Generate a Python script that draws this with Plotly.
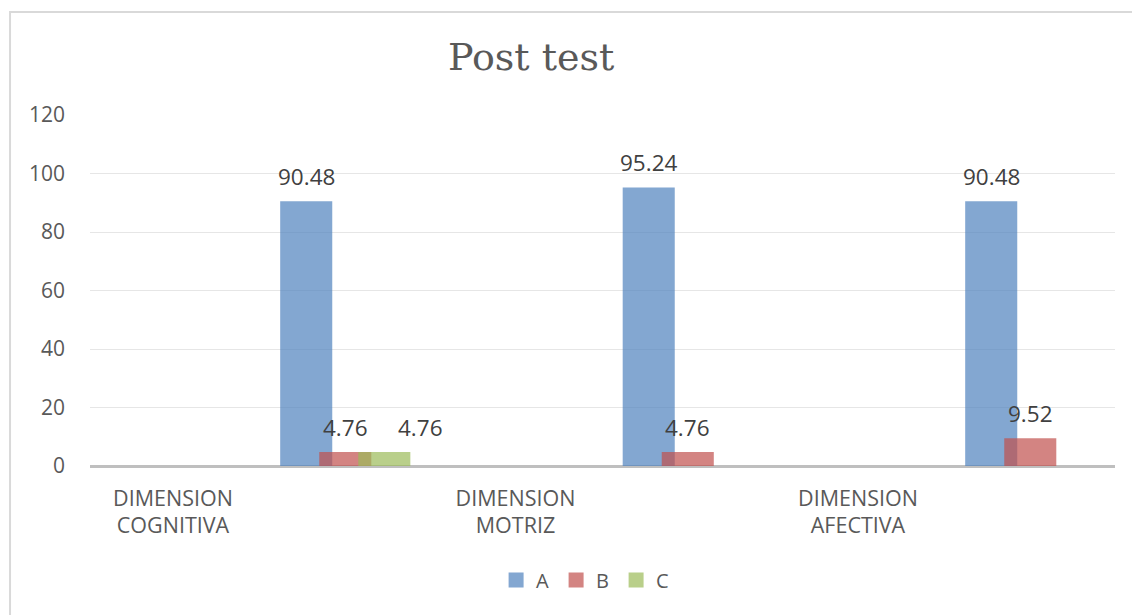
import plotly.graph_objects as go

categories = ["DIMENSION<br>COGNITIVA", "DIMENSION<br>MOTRIZ", "DIMENSION<br>AFECTIVA"]
series_names = ["A", "B", "C"]
values_A = [90.48, 95.24, 90.48]
values_B = [4.76, 4.76, 9.52]
values_C = [4.76, None, None]
colors = ["rgba(79,129,189,0.7)", "rgba(192,80,77,0.7)", "rgba(155,187,89,0.7)"]
y_ticks = [0, 20, 40, 60, 80, 100, 120]

offsets = [0.389, 0.503, 0.617]
bar_w = 0.152
label_xshift = [0, 0, 36]

fig = go.Figure()
all_vals = [values_A, values_B, values_C]
idx = list(range(len(categories)))
for s, (name, vals, col, off) in enumerate(zip(series_names, all_vals, colors, offsets)):
    xs = [i + off for i, v in zip(idx, vals) if v is not None]
    ys = [v for v in vals if v is not None]
    fig.add_trace(go.Bar(x=xs, y=ys, name=name, width=bar_w, showlegend=False,
                         marker=dict(color=col, line=dict(width=0))))
    for x, y in zip(xs, ys):
        fig.add_annotation(x=x, y=y, text=f"{y:.2f}", showarrow=False,
                           yanchor="middle", yshift=25, xshift=label_xshift[s],
                           font=dict(family="Open Sans", size=22.5, color="#404040"))
for name, col in zip(series_names, colors):
    fig.add_trace(go.Scatter(x=[None], y=[None], mode="markers", name=name,
                             marker=dict(symbol="square", size=15, color=col)))

fig.update_layout(
    width=1140, height=615,
    margin=dict(l=82, r=33, t=107, b=157),
    barmode="overlay",
    plot_bgcolor="white", paper_bgcolor="white",
    showlegend=True,
    legend=dict(orientation="h", x=0.484, xanchor="center", y=-0.325, yanchor="middle",
                font=dict(family="Open Sans", size=20, color="#595959"),
                itemwidth=30, entrywidth=15, traceorder="normal"),
    title=dict(text="Post test", x=0.4588, xanchor="center", y=0.921, yanchor="middle",
               xref="container", yref="container",
               font=dict(family="DejaVu Serif", size=38, color="#595959")),
)
fig.update_xaxes(range=[-0.2423, 2.7504], tickmode="array", tickvals=idx, ticktext=categories,
                 showgrid=False, zeroline=False, showline=False, ticks="",
                 tickfont=dict(family="Open Sans", size=21.5, color="#595959"),
                 ticklabelstandoff=17)
fig.update_yaxes(range=[0, 120], tickmode="array", tickvals=y_ticks,
                 showgrid=True, gridcolor="#E6E6E6", gridwidth=1,
                 zeroline=True, zerolinecolor="#BFBFBF", zerolinewidth=2.5,
                 showline=False, ticks="",
                 tickfont=dict(family="Open Sans", size=21, color="#595959"),
                 ticklabelstandoff=24)
fig.add_shape(type="rect", xref="paper", yref="paper",
              x0=-0.078, y0=-0.6, x1=1.1, y1=1.2934,
              line=dict(color="#D9D9D9", width=2), fillcolor="rgba(0,0,0,0)", layer="below")
fig.write_html("out.html")
